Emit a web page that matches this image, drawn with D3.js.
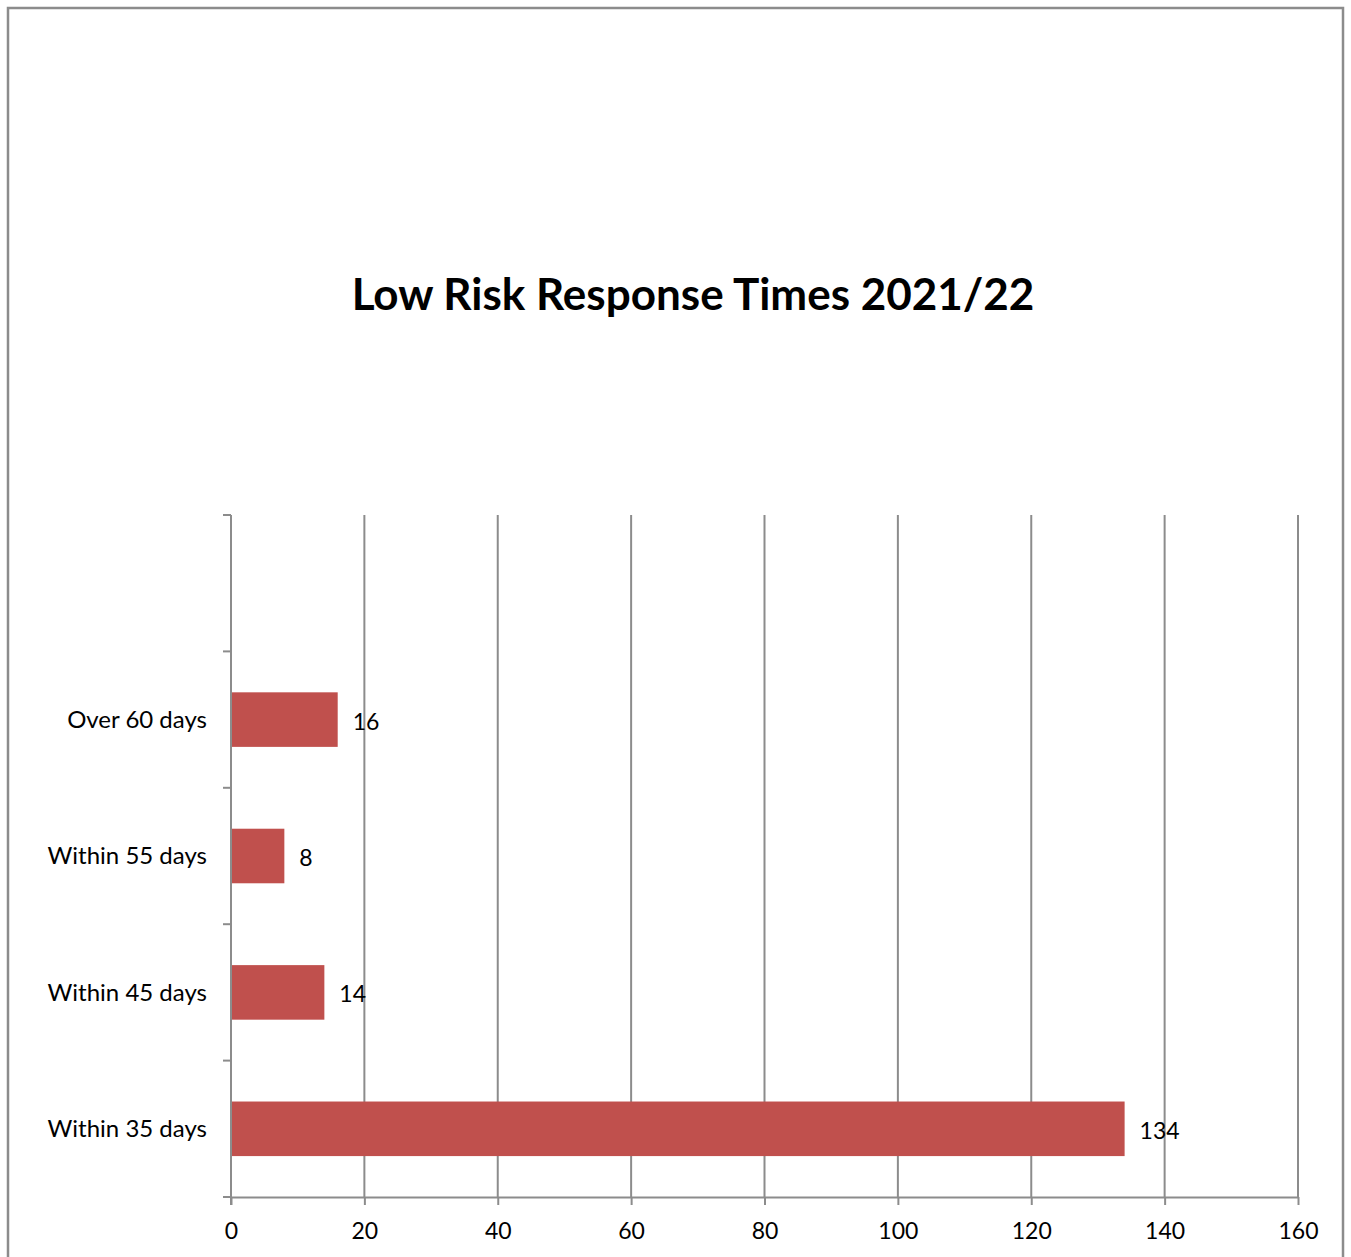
<!DOCTYPE html>
<html>
<head>
<meta charset="utf-8">
<script src="https://cdn.jsdelivr.net/npm/d3@7"></script>
<style>
  body { margin: 0; background: #fff; }
  text { font-family: Lato, "Open Sans", sans-serif; fill: #000; }
</style>
</head>
<body>
<script>
// chart data
const categories = ["", "Over 60 days", "Within 55 days", "Within 45 days", "Within 35 days"];
const values = [null, 16, 8, 14, 134];
const xTicks = [0, 20, 40, 60, 80, 100, 120, 140, 160];
const title = "Low Risk Response Times 2021/22";

const width = 1351;
const height = 1257;
const margin = { top: 515, right: 53, bottom: 60, left: 231 };

const svg = d3
  .select("body")
  .append("svg")
  .attr("width", width)
  .attr("height", height);

// outer frame
svg
  .append("rect")
  .attr("x", 8)
  .attr("y", 8)
  .attr("width", 1335)
  .attr("height", 1270)
  .attr("fill", "white")
  .attr("stroke", "#8c8c8c")
  .attr("stroke-width", 2.5);

const x = d3.scaleLinear().domain([0, 160]).range([margin.left, width - margin.right]);
const y = d3
  .scaleBand()
  .domain(categories)
  .range([margin.top, 1197])
  .paddingInner(0)
  .paddingOuter(0);

// gridlines
svg
  .append("g")
  .selectAll("line")
  .data(xTicks.slice(1))
  .enter()
  .append("line")
  .attr("x1", (d) => x(d))
  .attr("x2", (d) => x(d))
  .attr("y1", margin.top)
  .attr("y2", 1197)
  .attr("stroke", "#8c8c8c")
  .attr("stroke-width", 2);

// bars: excel gap width 150%
const barH = y.bandwidth() / 2.5;
const rows = categories.map((c, i) => ({ cat: c, value: values[i] })).filter((d) => d.value != null);

svg
  .append("g")
  .selectAll("rect")
  .data(rows)
  .enter()
  .append("rect")
  .attr("x", x(0))
  .attr("y", (d) => y(d.cat) + (y.bandwidth() - barH) / 2)
  .attr("width", (d) => x(d.value) - x(0))
  .attr("height", barH)
  .attr("fill", "#c0504d");

// value labels
svg
  .append("g")
  .selectAll("text")
  .data(rows)
  .enter()
  .append("text")
  .attr("x", (d) => x(d.value) + 15)
  .attr("y", (d) => y(d.cat) + y.bandwidth() / 2 + 2)
  .attr("dy", "0.35em")
  .style("font-size", "23px")
  .text((d) => d.value);

// x axis
const xAxisG = svg
  .append("g")
  .attr("transform", "translate(0,1197)")
  .call(d3.axisBottom(x).tickValues(xTicks).tickSize(8).tickSizeOuter(0).tickPadding(18));
xAxisG.select(".domain").attr("stroke", "#8c8c8c").attr("stroke-width", 2);
xAxisG.selectAll(".tick line").attr("stroke", "#8c8c8c").attr("stroke-width", 2);
xAxisG.selectAll(".tick text").style("font-size", "23px").attr("fill", "#000");

// extend x axis line left to meet the outward y tick
svg
  .append("line")
  .attr("x1", margin.left - 8)
  .attr("x2", margin.left)
  .attr("y1", 1197)
  .attr("y2", 1197)
  .attr("stroke", "#8c8c8c")
  .attr("stroke-width", 2);

// y axis: ticks between categories
const yAxisG = svg.append("g");
yAxisG
  .append("line")
  .attr("x1", margin.left)
  .attr("x2", margin.left)
  .attr("y1", margin.top)
  .attr("y2", 1205)
  .attr("stroke", "#8c8c8c")
  .attr("stroke-width", 2);
yAxisG
  .selectAll(".ytick")
  .data(categories)
  .enter()
  .append("line")
  .attr("class", "ytick")
  .attr("x1", margin.left - 8)
  .attr("x2", margin.left)
  .attr("y1", (d) => y(d))
  .attr("y2", (d) => y(d))
  .attr("stroke", "#8c8c8c")
  .attr("stroke-width", 2);
yAxisG
  .selectAll(".ylabel")
  .data(categories)
  .enter()
  .append("text")
  .attr("class", "ylabel")
  .attr("x", margin.left - 24)
  .attr("y", (d) => y(d) + y.bandwidth() / 2)
  .attr("dy", "0.35em")
  .attr("text-anchor", "end")
  .style("font-size", "24px")
  .text((d) => d);

// title
svg
  .append("text")
  .attr("x", 693)
  .attr("y", 310)
  .attr("text-anchor", "middle")
  .style("font-size", "44px")
  .style("font-weight", "bold")
  .text(title);
</script>
</body>
</html>
